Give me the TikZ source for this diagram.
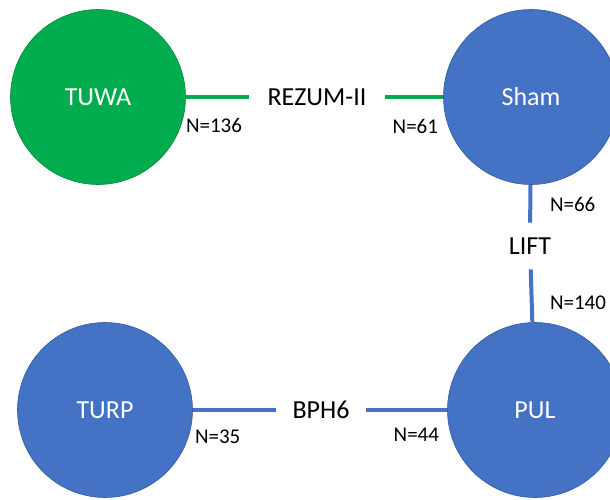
\documentclass[tikz,border=0pt]{standalone}
\usepackage{fontspec}
\setmainfont{Carlito}
\usepackage{xcolor}
\usetikzlibrary{positioning,shapes}
\definecolor{armgreen}{HTML}{00AC4E}
\definecolor{armblue}{HTML}{4472C4}

\begin{document}
\begin{tikzpicture}[x=1pt,y=-1pt,line width=4pt,
                    main node/.style={circle,minimum size=175pt,inner sep=0pt,text=white,font=\fontsize{26}{30}\selectfont},
                    green node/.style={main node,fill=armgreen,draw=armgreen!80!black,line width=0.6pt},
                    blue node/.style={main node,fill=armblue,draw=armblue!80!black,line width=0.6pt},
                    trial/.style={font=\fontsize{26}{30}\selectfont,inner ysep=12pt},
                    count/.style={font=\fontsize{21}{25}\selectfont,inner sep=0pt}
                   ]
  \useasboundingbox (0,0) rectangle (610,499);

  \node[green node] (TUWA) at (98,97) {TUWA};
  \node[blue node]  (Sham) at (531,97) {Sham};
  \node[blue node]  (TURP) at (105,410) {TURP};
  \node[blue node]  (PUL)  at (535,410) {PUL};

  % trial names sit on the connectors
  \node[trial,inner xsep=17pt] (rezum) at (317,97) {REZUM-II};
  \node[trial,inner xsep=15pt] (bph6)  at (321,410) {BPH6};
  \node[trial,inner ysep=13pt] (lift)  at (530,246) {LIFT};

  \path[-,armgreen]%
    (TUWA) edge (rezum)
    (rezum) edge (Sham);
  \path[-,armblue]%
    (Sham) edge (lift)
    (lift) edge (PUL)
    (TURP) edge (bph6)
    (bph6) edge (PUL);

  % patient numbers per arm
  \node[count,anchor=west] (n136) at (184,125) {N=136};
  \node[count,anchor=east] (n61)  at (440,126) {N=61};
  \node[count,anchor=west] (n66)  at (548,204) {N=66};
  \node[count,anchor=west] (n140) at (548,303) {N=140};
  \node[count,anchor=west] (n35)  at (193,437) {N=35};
  \node[count,anchor=east] (n44)  at (441,435) {N=44};
\end{tikzpicture}
\end{document}
